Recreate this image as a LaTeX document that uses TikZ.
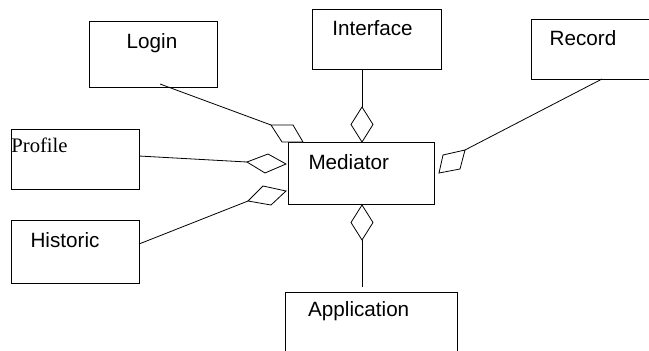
\documentclass[tikz,border=0pt]{standalone}
\usepackage{fontspec}
\setmainfont{Liberation Serif}
\newfontfamily\arialfont{Liberation Sans}
\begin{document}
\begin{tikzpicture}[x=0.75pt,y=-0.75pt,
    box/.style={draw,anchor=north west,inner sep=0pt},
    lbl/.style={anchor=base,inner sep=0pt,font=\arialfont\fontsize{15.5}{18}\selectfont},
    agg/.style={draw,fill=white,line join=miter}]
  \useasboundingbox (0,0) rectangle (649,350);
  \begin{scope}[line width=0.6pt]
  \draw
    (89,21) node[box,minimum width=96pt,minimum height=49.5pt] (login){}
    (312,9) node[box,minimum width=96.75pt,minimum height=45pt] (interface){}
    (531,19) node[box,minimum width=111.75pt,minimum height=45pt] (record){}
    (288,142) node[box,minimum width=109.5pt,minimum height=46.5pt] (mediator){}
    (11,129) node[box,minimum width=96pt,minimum height=45pt] (profile){}
    (11,220) node[box,minimum width=96pt,minimum height=47.25pt] (historic){}
    (285,292) node[box,minimum width=129pt,minimum height=58.5pt] (application){};
  \draw
    (152,48) node[lbl] (login-t){Login}
    (372.5,35) node[lbl] (interface-t){Interface}
    (583,45) node[lbl] (record-t){Record}
    (348.7,169) node[lbl] (mediator-t){Mediator}
    (11,152) node[anchor=base west,inner sep=0pt,font=\fontsize{15.5}{18}\selectfont] (profile-t){Profile}
    (65,247) node[lbl] (historic-t){Historic}
    (358.7,316) node[lbl] (application-t){Application};
  % end points on the boxes
  \coordinate (login-e) at (160,84);
  \coordinate (interface-e) at (362,69);
  \coordinate (record-e) at (602,79);
  \coordinate (profile-e) at (139,156);
  \coordinate (historic-e) at (139,244);
  \coordinate (application-e) at (362,287);
  % aggregation diamonds
  \draw[agg] (271,125) coordinate (d-login) -- (293,125) -- (303,142) -- (282,142) -- cycle;
  \draw[agg] (362,107) coordinate (d-interface) -- (373,124.5) -- (362,142) -- (351,124.5) -- cycle;
  \draw[agg] (465,150) coordinate (d-record) -- (460,169) -- (439,173) -- (443,155) -- cycle;
  \draw[agg] (247,162) coordinate (d-profile) -- (268,154) -- (286,164) -- (265,173) -- cycle;
  \draw[agg] (248,201) coordinate (d-historic) -- (263,186) -- (286,191) -- (271,205) -- cycle;
  \draw[agg] (362,240) coordinate (d-application) -- (373,222.5) -- (362,205) -- (351,222.5) -- cycle;
  \end{scope}
  \begin{scope}[-,line width=0.6pt]
    \draw (login-e) to (d-login);
    \draw (interface-e) to (d-interface);
    \draw (record-e) to (d-record);
    \draw (profile-e) to (d-profile);
    \draw (historic-e) to (d-historic);
    \draw (application-e) to (d-application);
  \end{scope}
\end{tikzpicture}
\end{document}
